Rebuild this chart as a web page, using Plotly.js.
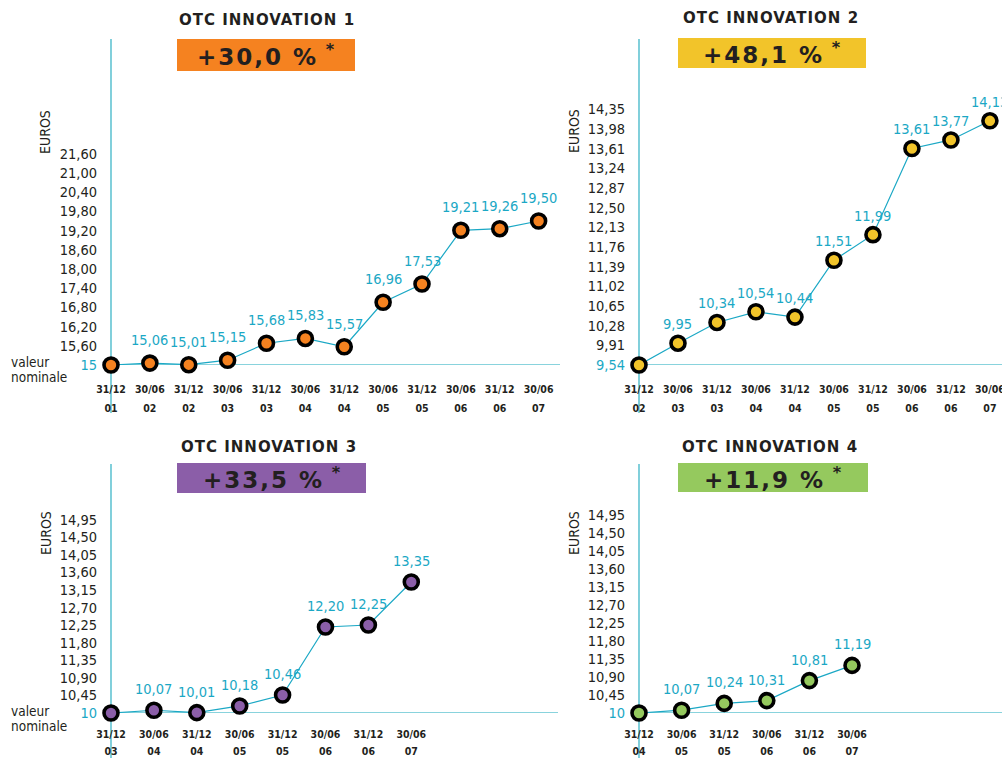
<!DOCTYPE html>
<html>
<head>
<meta charset="utf-8">
<script src="https://cdn.plot.ly/plotly-3.0.1.min.js"></script>
<style>html,body{margin:0;padding:0;background:#fff;}#chart{width:1002px;height:758px;}</style>
</head>
<body>
<div id="chart"></div>
<script>
// ---------- DATA ----------
var titles = ["OTC INNOVATION 1", "OTC INNOVATION 2", "OTC INNOVATION 3", "OTC INNOVATION 4"];
var perf = ["+30,0", "+48,1", "+33,5", "+11,9"];

var dates1 = ["31/12 01","30/06 02","31/12 02","30/06 03","31/12 03","30/06 04","31/12 04","30/06 05","31/12 05","30/06 06","31/12 06","30/06 07"];
var values1 = [15, 15.06, 15.01, 15.15, 15.68, 15.83, 15.57, 16.96, 17.53, 19.21, 19.26, 19.50];

var dates2 = ["31/12 02","30/06 03","31/12 03","30/06 04","31/12 04","30/06 05","31/12 05","30/06 06","31/12 06","30/06 07"];
var values2 = [9.54, 9.95, 10.34, 10.54, 10.44, 11.51, 11.99, 13.61, 13.77, 14.13];

var dates3 = ["31/12 03","30/06 04","31/12 04","30/06 05","31/12 05","30/06 06","31/12 06","30/06 07"];
var values3 = [10, 10.07, 10.01, 10.18, 10.46, 12.20, 12.25, 13.35];

var dates4 = ["31/12 04","30/06 05","31/12 05","30/06 06","31/12 06","30/06 07"];
var values4 = [10, 10.07, 10.24, 10.31, 10.81, 11.19];

var yTicks1 = [15, 15.6, 16.2, 16.8, 17.4, 18.0, 18.6, 19.2, 19.8, 20.4, 21.0, 21.6];
var yTicks2 = [9.54, 9.91, 10.28, 10.65, 11.02, 11.39, 11.76, 12.13, 12.50, 12.87, 13.24, 13.61, 13.98, 14.35];
var yTicks3 = [10, 10.45, 10.90, 11.35, 11.80, 12.25, 12.70, 13.15, 13.60, 14.05, 14.50, 14.95];
var yTicks4 = [10, 10.45, 10.90, 11.35, 11.80, 12.25, 12.70, 13.15, 13.60, 14.05, 14.50, 14.95];

var fillColors = ["#f58220", "#f2c42a", "#8b5ea8", "#95c95e"];

// ---------- STYLE ----------
var W = 1002, H = 758;
var COND = "'DejaVu Sans Condensed', 'Liberation Sans Narrow', 'DejaVu Sans', sans-serif";
var WIDE = "'DejaVu Sans', Verdana, sans-serif";
var TEAL = "#1ba8c5";
var AXIS = "#62c4d2";
var INK = "#231f20";
function X(px){ return px / W; }
function Y(py){ return 1 - py / H; }
function fmt(v, base){ return (v === base && Math.round(v) === v) ? String(v) : v.toFixed(2).replace('.', ','); }
function dateLabel(d){
  var p = d.split(' ');
  return '<span style="font-size:10.5px">' + p[0] + '</span><br><span style="font-size:10.5px">' + p[1] + '</span>';
}

var panels = [
  {dates: dates1, values: values1, ticks: yTicks1, xdom: [X(111), X(560)], ydom: [Y(365), Y(39)], xr: 11.55, yr: [15, 15 + 326/32],
   vline: [413, 39], labShift: 23, box: [177, 39, 355, 71], title: [267, 20], euros: [45, 132], nominal: [362, 377],
   xStand: 12, xBase: 14.6},
  {dates: dates2, values: values2, ticks: yTicks2, xdom: [X(639), 1], ydom: [Y(365), Y(39)], xr: 9.31, yr: [9.54, 9.54 + 326/53.2],
   vline: [413, 39], labShift: 19, box: [678, 38, 866, 68], title: [771, 18], euros: [574, 131], nominal: null,
   xStand: 12, xBase: 14.6},
  {dates: dates3, values: values3, ticks: yTicks3, xdom: [X(111), X(558)], ydom: [Y(713), Y(464)], xr: 10.42, yr: [10, 10 + 249/39.1],
   vline: [758, 464], labShift: 21, box: [177, 463, 366, 493], title: [269, 447], euros: [46, 533], nominal: [711, 726],
   xStand: 10, xBase: 13.6},
  {dates: dates4, values: values4, ticks: yTicks4, xdom: [X(639), 1], ydom: [Y(713), Y(464)], xr: 8.52, yr: [10, 10 + 249/40],
   vline: [758, 464], labShift: 21, box: [678, 463, 868, 492], title: [770, 447], euros: [574, 533], nominal: null,
   xStand: 10, xBase: 13.6}
];

var data = [], shapes = [], annotations = [];
var spacing = {}; // annotation index -> letter spacing (px)
var layout = {
  width: W, height: H, margin: {l: 0, r: 0, t: 0, b: 0},
  paper_bgcolor: '#fff', plot_bgcolor: 'rgba(0,0,0,0)', showlegend: false,
  font: {family: COND, color: INK}
};

panels.forEach(function(p, i){
  var n = i + 1;
  var xa = 'x' + (n === 1 ? '' : n), ya = 'y' + (n === 1 ? '' : n);
  var xaName = 'xaxis' + (n === 1 ? '' : n), yaName = 'yaxis' + (n === 1 ? '' : n);
  var base = p.values[0];

  data.push({
    type: 'scatter', mode: 'lines+markers', x: p.dates, y: p.values, xaxis: xa, yaxis: ya,
    line: {color: TEAL, width: 1.2},
    marker: {size: 14, color: fillColors[i], line: {color: '#000', width: 3.6}},
    cliponaxis: false, hoverinfo: 'skip'
  });

  layout[xaName] = {
    domain: p.xdom, anchor: ya, type: 'category', categoryarray: p.dates, range: [0, p.xr],
    showgrid: false, zeroline: false, showline: false,
    tickmode: 'array', tickvals: p.dates, ticktext: p.dates.map(dateLabel),
    ticks: '', ticklabelstandoff: p.xStand,
    tickfont: {family: COND, size: p.xBase, color: INK, weight: 'bold'}
  };
  layout[yaName] = {
    domain: p.ydom, anchor: xa, range: p.yr,
    showgrid: false, zeroline: false, showline: false,
    tickmode: 'array', tickvals: p.ticks,
    ticktext: p.ticks.map(function(v){
      var t = fmt(v, base);
      return v === base ? '<span style="color:' + TEAL + '">' + t + '</span>' : t;
    }),
    ticks: '', ticklabelstandoff: 13,
    tickfont: {family: COND, size: 14.5, color: INK}
  };

  // axis lines
  shapes.push({type: 'line', xref: xa + ' domain', yref: 'paper', x0: 0, x1: 0, y0: Y(p.vline[0]), y1: Y(p.vline[1]),
               line: {color: AXIS, width: 1.6}, layer: 'below'});
  shapes.push({type: 'line', xref: xa + ' domain', yref: ya, x0: 0, x1: 1, y0: base, y1: base,
               line: {color: AXIS, width: 1.6}, layer: 'below'});
  // performance box
  shapes.push({type: 'rect', xref: 'paper', yref: 'paper', x0: X(p.box[0]), x1: X(p.box[2]), y0: Y(p.box[3]), y1: Y(p.box[1]),
               fillcolor: fillColors[i], line: {width: 0}, layer: 'below'});

  spacing[annotations.length] = 2;
  annotations.push({xref: 'paper', yref: 'paper', x: X((p.box[0] + p.box[2]) / 2 + 1), y: Y((p.box[1] + p.box[3]) / 2),
    text: perf[i] + ' %<sup> *</sup>', showarrow: false, xanchor: 'center', yanchor: 'middle',
    font: {family: WIDE, size: 23, color: INK, weight: 'bold'}});
  spacing[annotations.length] = 1;
  annotations.push({xref: 'paper', yref: 'paper', x: X(p.title[0]), y: Y(p.title[1]),
    text: titles[i], showarrow: false, xanchor: 'center', yanchor: 'middle',
    font: {family: WIDE, size: 15, color: INK, weight: 'bold'}});
  annotations.push({xref: 'paper', yref: 'paper', x: X(p.euros[0]), y: Y(p.euros[1]),
    text: 'EUROS', textangle: -90, showarrow: false, xanchor: 'center', yanchor: 'middle',
    font: {family: COND, size: 14, color: INK}});
  if (p.nominal) {
    annotations.push({xref: 'paper', yref: 'paper', x: X(9), y: Y(p.nominal[0]), text: 'valeur',
      showarrow: false, xanchor: 'left', yanchor: 'middle', font: {family: COND, size: 13.5, color: INK}});
    annotations.push({xref: 'paper', yref: 'paper', x: X(9), y: Y(p.nominal[1]), text: 'nominale',
      showarrow: false, xanchor: 'left', yanchor: 'middle', font: {family: COND, size: 13.5, color: INK}});
  }
  // value labels
  p.values.forEach(function(v, k){
    if (k === 0) return;
    annotations.push({xref: xa, yref: ya, x: p.dates[k], y: v, text: fmt(v, base), showarrow: false,
      xanchor: 'center', yanchor: 'middle', yshift: p.labShift,
      font: {family: COND, size: 14.5, color: TEAL}});
  });
});

layout.shapes = shapes;
layout.annotations = annotations;

Plotly.newPlot('chart', data, layout, {staticPlot: true, displayModeBar: false}).then(function(gd){
  Object.keys(spacing).forEach(function(k){
    var t = gd.querySelector('.annotation[data-index="' + k + '"] text');
    if (t) t.style.letterSpacing = spacing[k] + 'px';
  });
});
</script>
</body>
</html>
